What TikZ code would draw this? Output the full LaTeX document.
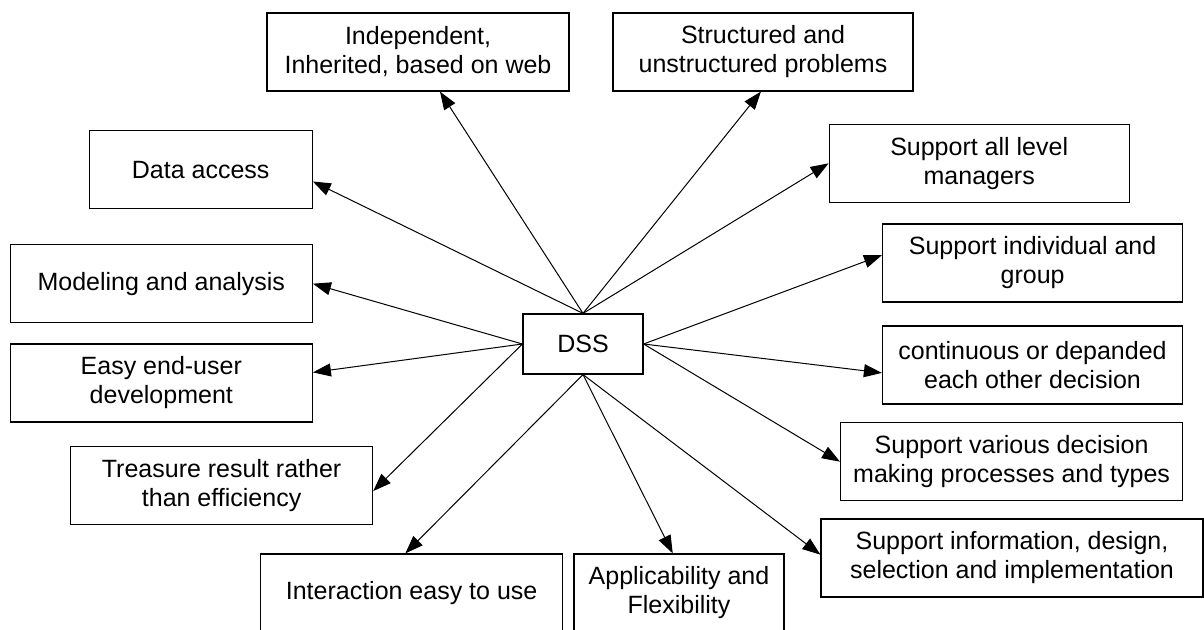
\documentclass[tikz,border=0pt]{standalone}
\usepackage{fontspec}
\setmainfont{Liberation Sans}
\usetikzlibrary{arrows.meta}

\begin{document}
\begin{tikzpicture}[x=0.5pt,y=-0.5pt,>={Triangle[length=9pt,width=6.5pt]},
    box/.style={draw,rectangle,line width=0.6pt,align=center,inner sep=2pt,
        minimum height=39pt,font=\fontsize{12.5}{14.5}\selectfont}]
    \clip (0,0) rectangle (1204,630);

    \node[box,minimum width=60pt,minimum height=30pt] (dss) at (583,344) {DSS};

    \node[box,minimum width=151pt] (indep) at (418,52) {Independent,\\Inherited, based on web};
    \node[box,minimum width=150pt] (struct) at (763,52) {Structured and\\unstructured problems};
    \node[box,minimum width=111.5pt] (data) at (200.7,169.7) {Data access};
    \node[box,minimum width=150pt] (levels) at (979.2,163.3) {Support all level\\managers};
    \node[box,minimum width=151pt] (model) at (161.3,283.7) {Modeling and analysis};
    \node[box,minimum width=150pt] (indiv) at (1032.6,263) {Support individual and\\group};
    \node[box,minimum width=151pt] (enduser) at (161.3,383) {Easy end-user\\development};
    \node[box,minimum width=150pt] (contin) at (1032.5,365) {continuous or depanded\\each other decision};
    \node[box,minimum width=151pt] (treasure) at (221.6,485.8) {Treasure result rather\\than efficiency};
    \node[box,minimum width=171pt] (various) at (1011.6,461.7) {Support various decision\\making processes and types};
    \node[box,minimum width=151pt] (interact) at (411.6,593) {Interaction easy to use};
    \node[box,minimum width=105pt] (applic) at (679,593) {Applicability and\\Flexibility};
    \node[box,minimum width=191pt] (info) at (1012,558) {Support information, design,\\selection and implementation};

    \path[->,line width=0.5pt]
    (dss.north) edge (indep.-61)
    (dss.north) edge (struct.-93)
    (dss.north) edge (data.-6)
    (dss.north) edge (levels.west)
    (dss.west) edge (model.east)
    (dss.west) edge (enduser.4)
    (dss.west) edge (treasure.-2)
    (dss.east) edge (indiv.177)
    (dss.east) edge (contin.-177)
    (dss.east) edge (various.west)
    (dss.south) edge (interact.99)
    (dss.south) edge (applic.99)
    (dss.south) edge (info.179)
    ;
\end{tikzpicture}
\end{document}
